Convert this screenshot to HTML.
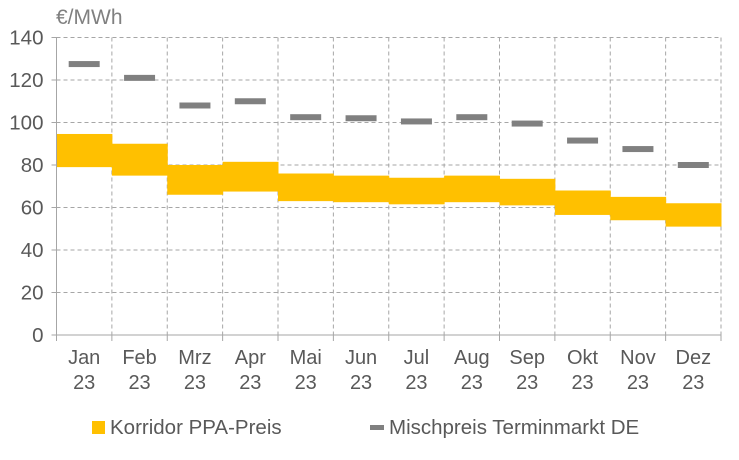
<!DOCTYPE html>
<html><head><meta charset="utf-8"><style>
html,body{margin:0;padding:0;background:#fff;}
svg{display:block;font-family:"Liberation Sans",Arial,sans-serif;}
</style></head><body>
<svg id="c" width="739" height="460" viewBox="0 0 739 460" xmlns="http://www.w3.org/2000/svg">
<text x="56" y="24" font-size="21" fill="#808080">€/MWh</text>
<g id="g"></g>
<rect x="92" y="421" width="13" height="13" fill="#FFC000"/>
<text x="110" y="434" font-size="20.5" fill="#595959">Korridor PPA-Preis</text>
<rect x="370" y="425" width="14" height="5" fill="#808080"/>
<text x="389" y="434" font-size="20.5" fill="#595959">Mischpreis Terminmarkt DE</text>
</svg>
<script>
var g=document.getElementById('g'),s='';
var L=56.5,R=721,T=37.5,B=335,u=(B-T)/140,w=(R-L)/12;
function y(v){return B-v*u;}
for(var v=20;v<=140;v+=20)s+='<line x1="'+L+'" x2="'+R+'" y1="'+y(v)+'" y2="'+y(v)+'" stroke="#a6a6a6" stroke-dasharray="4,3"/>';
for(var i=1;i<=12;i++){var x=L+i*w;s+='<line x1="'+x+'" x2="'+x+'" y1="'+T+'" y2="'+B+'" stroke="#a6a6a6" stroke-dasharray="4,3"/>';}
var d=[[79,94.6,127.5],[75,90,121],[66,80,108],[67.5,81.5,110],[63,76,102.5],[62.5,75,102],[61.5,74,100.5],[62.5,75,102.5],[61,73.5,99.5],[56.5,68,91.5],[54,65,87.5],[51,62,80]];
var m=['Jan','Feb','Mrz','Apr','Mai','Jun','Jul','Aug','Sep','Okt','Nov','Dez'];
for(var i=0;i<12;i++){var x=L+i*w,c=x+w/2,r=d[i];
s+='<rect x="'+x+'" y="'+y(r[1])+'" width="'+(w+0.5)+'" height="'+((r[1]-r[0])*u)+'" fill="#FFC000"/>';
s+='<rect x="'+(c-15.5)+'" y="'+(y(r[2])-3)+'" width="31" height="6" fill="#808080"/>';
s+='<text x="'+c+'" y="364" font-size="20" fill="#595959" text-anchor="middle">'+m[i]+'</text>';
s+='<text x="'+c+'" y="389" font-size="20" fill="#595959" text-anchor="middle">23</text>';}
s+='<line x1="'+L+'" x2="'+L+'" y1="'+T+'" y2="'+B+'" stroke="#a6a6a6"/>';
s+='<line x1="'+L+'" x2="'+R+'" y1="'+B+'" y2="'+B+'" stroke="#a6a6a6"/>';
for(var i=0;i<=12;i++){var x=L+i*w;s+='<line x1="'+x+'" x2="'+x+'" y1="'+B+'" y2="'+(B+6)+'" stroke="#a6a6a6"/>';}
for(var v=0;v<=140;v+=20){s+='<line x1="'+(L-5)+'" x2="'+L+'" y1="'+y(v)+'" y2="'+y(v)+'" stroke="#a6a6a6"/>';
s+='<text x="'+(L-13)+'" y="'+(y(v)+7)+'" font-size="20.5" fill="#595959" text-anchor="end">'+v+'</text>';}
g.innerHTML=s;
</script>
</body></html>
